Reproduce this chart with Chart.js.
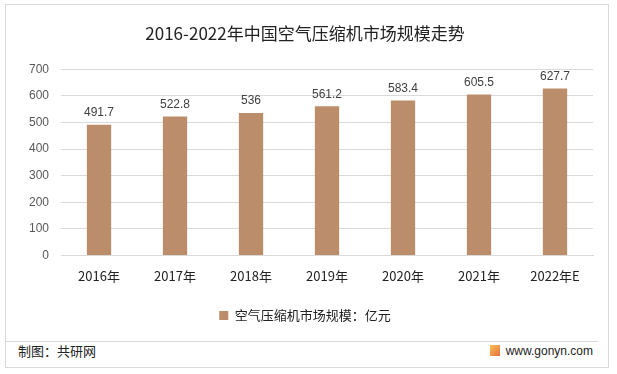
<!DOCTYPE html>
<html>
<head>
<meta charset="utf-8">
<script src="https://cdn.jsdelivr.net/npm/chart.js@4/dist/chart.umd.min.js"></script>
<style>
  body { margin: 0; background: #fff; }
  #wrap { position: relative; width: 617px; height: 374px; background: #fff; }
  #frame { position: absolute; left: 5px; top: 4px; width: 604px; height: 364px; border: 1px solid #d9d9d9; box-sizing: border-box; }
  #box { position: absolute; left: 0; top: 0; width: 617px; height: 338px; }
  #sep { position: absolute; left: 6px; top: 341px; width: 592px; height: 1px; background: #d9d9d9; }
  #src { position: absolute; left: 18px; top: 341px; font: 13px "Noto Sans CJK SC", sans-serif; color: #222; }
  #site { position: absolute; right: 24px; top: 342px; font: 12px "Liberation Sans", Arial, sans-serif; color: #222; line-height: 18px; }
  #logo { display: inline-block; width: 10px; height: 11px; background: linear-gradient(135deg, #f9c05a, #e8713a); vertical-align: -1px; margin-right: 6px; }
</style>
</head>
<body>
<div id="wrap">
  <div id="frame"></div>
  <div id="box"><canvas id="marketChart" width="617" height="338"></canvas></div>
  <div id="sep"></div>
  <div id="src">制图：共研网</div>
  <div id="site"><span id="logo"></span>www.gonyn.com</div>
</div>
<script>
document.addEventListener("DOMContentLoaded", function () {
    const years = ['2016年', '2017年', '2018年', '2019年', '2020年', '2021年', '2022年E'];
    const marketSize = [491.7, 522.8, 536, 561.2, 583.4, 605.5, 627.7];
    const seriesName = '空气压缩机市场规模：亿元';
    const barColor = '#bc8d6b';

    // labels on top of each bar
    const valueLabels = {
        id: 'valueLabels',
        afterDatasetsDraw(chart) {
            const ctx = chart.ctx;
            const meta = chart.getDatasetMeta(0);
            ctx.save();
            ctx.font = '12px "Liberation Sans", Arial, sans-serif';
            ctx.fillStyle = '#404040';
            ctx.textAlign = 'center';
            ctx.textBaseline = 'bottom';
            meta.data.forEach(function (bar, i) {
                ctx.fillText(String(marketSize[i]), bar.x, bar.y - 6);
            });
            ctx.restore();
        }
    };

    const ctx = document.getElementById('marketChart').getContext('2d');
    new Chart(ctx, {
        type: 'bar',
        data: {
            labels: years,
            datasets: [{
                label: seriesName,
                data: marketSize,
                backgroundColor: barColor,
                barPercentage: 0.32,
                categoryPercentage: 1
            }]
        },
        options: {
            responsive: false,
            animation: false,
            layout: { padding: { left: 17, right: 24, top: 0, bottom: 6 } },
            plugins: {
                title: {
                    display: true,
                    text: '2016-2022年中国空气压缩机市场规模走势',
                    color: '#222',
                    font: { family: '"Noto Sans CJK SC", sans-serif', size: 17, weight: 'normal' },
                    padding: { top: 23, bottom: 26 }
                },
                legend: {
                    position: 'bottom',
                    labels: {
                        color: '#222',
                        boxWidth: 9,
                        boxHeight: 9,
                        font: { family: '"Noto Sans CJK SC", sans-serif', size: 13 },
                        padding: 17
                    }
                },
                tooltip: { enabled: false }
            },
            scales: {
                y: {
                    min: 0,
                    max: 700,
                    ticks: { stepSize: 100, color: '#595959', padding: 12,
                        font: { family: '"Liberation Sans", Arial, sans-serif', size: 12 } },
                    grid: { color: '#d9d9d9', drawTicks: false },
                    border: { display: false }
                },
                x: {
                    ticks: { color: '#222', padding: 5,
                        font: { family: '"Noto Sans CJK SC", sans-serif', size: 13 } },
                    grid: { display: false },
                    border: { color: '#d9d9d9' },
                    afterFit: function (axis) { axis.height += 3; }
                }
            }
        },
        plugins: [valueLabels]
    });
});
</script>
</body>
</html>
